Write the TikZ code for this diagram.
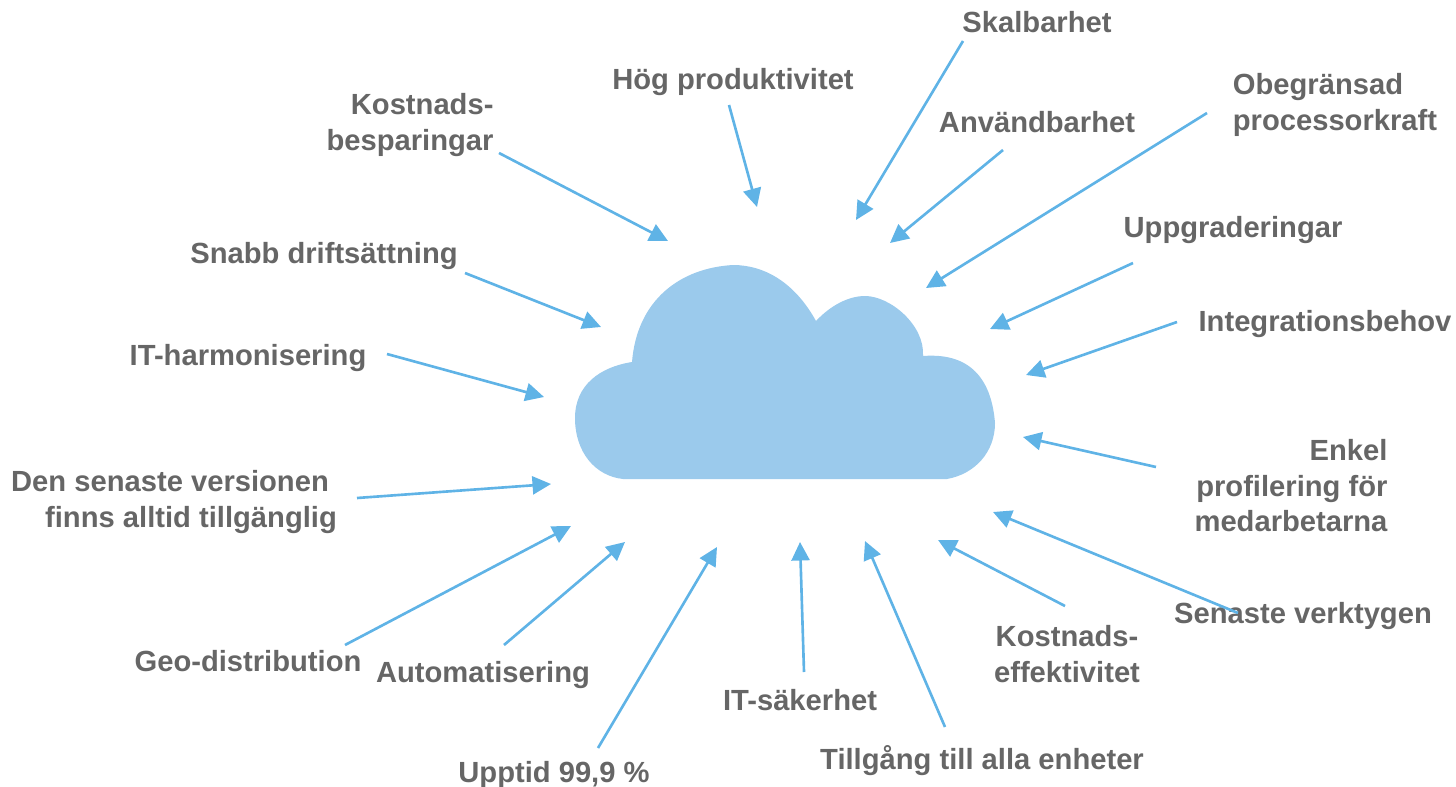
\documentclass[tikz,border=0pt]{standalone}
\usepackage{fontspec}
\setmainfont{Liberation Sans}
\usetikzlibrary{arrows.meta}
\definecolor{molnfarg}{HTML}{9BCAEC}
\definecolor{pilfarg}{HTML}{5FB3E6}
\definecolor{textfarg}{HTML}{666666}
\tikzset{
  etikett/.style={inner sep=0pt, text=textfarg, font=\fontsize{16.6}{20.2}\selectfont\bfseries},
  pil/.style={draw=pilfarg, line width=1.5pt, -{Triangle[length=0.37cm,width=0.36cm]}}
}

\begin{document}
\begin{tikzpicture}[x=0.02cm, y=-0.02cm]
\useasboundingbox (0,0) rectangle (1456,787);
\fill[molnfarg] (623,479) -- (947,479)
  .. controls (975,474) and (995,452) .. (995,423)
  .. controls (992,385) and (975,352) .. (923,356)
  .. controls (925,325) and (890,296) .. (865,296)
  .. controls (848,296) and (830,306) .. (816,321)
  .. controls (795,283) and (765,265) .. (733,265)
  .. controls (680,268) and (637,300) .. (632,362)
  .. controls (600,367) and (575,385) .. (575,418)
  .. controls (575,452) and (595,476) .. (623,479) -- cycle;
\node[etikett] (skalbarhet) at (1037,22) {Skalbarhet};
\node[etikett] (anvandbarhet) at (1037,122) {Användbarhet};
\node[etikett, align=left] (obegransad) at (1335,105) {Obegränsad\\processorkraft};
\node[etikett] (uppgraderingar) at (1233,230) {Uppgraderingar};
\node[etikett] (integration) at (1325,324) {Integrationsbehov};
\node[etikett, align=right] (profilering) at (1291,486) {Enkel\\profilering för\\medarbetarna};
\node[etikett] (verktygen) at (1303,616) {Senaste verktygen};
\node[etikett, align=center] (effektivitet) at (1067,654) {Kostnads-\\effektivitet};
\node[etikett] (tillgang) at (982,761) {Tillgång till alla enheter};
\node[etikett] (sakerhet) at (800,700) {IT-säkerhet};
\node[etikett] (upptid) at (554,775) {Upptid 99,9 \%};
\node[etikett] (automatisering) at (483,675) {Automatisering};
\node[etikett] (geo) at (248,661) {Geo-distribution};
\node[etikett, align=left] (version) at (174,502) {Den senaste versionen\\\hspace*{0.68cm}finns alltid tillgänglig};
\node[etikett] (harmonisering) at (248,358) {IT-harmonisering};
\node[etikett] (driftsattning) at (324,256) {Snabb driftsättning};
\node[etikett, align=right] (besparingar) at (410,125) {Kostnads-\\besparingar};
\node[etikett] (produktivitet) at (733,82) {Hög produktivitet};
\coordinate (spets1) at (856,220);
\coordinate (spets2) at (890,243);
\coordinate (spets3) at (926,288);
\coordinate (spets4) at (990,329);
\coordinate (spets5) at (1026,375);
\coordinate (spets6) at (1023,437);
\coordinate (spets7) at (993,512);
\coordinate (spets8) at (938,540);
\coordinate (spets9) at (865,541);
\coordinate (spets10) at (800,542);
\coordinate (spets11) at (717,547);
\coordinate (spets12) at (625,542);
\coordinate (spets13) at (571,526);
\coordinate (spets14) at (551,484);
\coordinate (spets15) at (544,397);
\coordinate (spets16) at (601,327);
\coordinate (spets17) at (668,241);
\coordinate (spets18) at (757,207);
\draw[pil] ([shift={(-74,19)}]skalbarhet.center) -- (spets1);
\draw[pil] ([shift={(-34,28)}]anvandbarhet.center) -- (spets2);
\draw[pil] ([shift={(-128,8)}]obegransad.center) -- (spets3);
\draw[pil] ([shift={(-100,33)}]uppgraderingar.center) -- (spets4);
\draw[pil] ([shift={(-148,-2)}]integration.center) -- (spets5);
\draw[pil] ([shift={(-135,-19)}]profilering.center) -- (spets6);
\draw[pil] ([shift={(-65,-3)}]verktygen.center) -- (spets7);
\draw[pil] ([shift={(-2,-48)}]effektivitet.center) -- (spets8);
\draw[pil] ([shift={(-37,-34)}]tillgang.center) -- (spets9);
\draw[pil] ([shift={(4,-28)}]sakerhet.center) -- (spets10);
\draw[pil] ([shift={(44,-27)}]upptid.center) -- (spets11);
\draw[pil] ([shift={(21,-30)}]automatisering.center) -- (spets12);
\draw[pil] ([shift={(97,-16)}]geo.center) -- (spets13);
\draw[pil] ([shift={(183,-4)}]version.center) -- (spets14);
\draw[pil] ([shift={(139,-4)}]harmonisering.center) -- (spets15);
\draw[pil] ([shift={(141,17)}]driftsattning.center) -- (spets16);
\draw[pil] ([shift={(89,28)}]besparingar.center) -- (spets17);
\draw[pil] ([shift={(-4,23)}]produktivitet.center) -- (spets18);
\end{tikzpicture}
\end{document}
